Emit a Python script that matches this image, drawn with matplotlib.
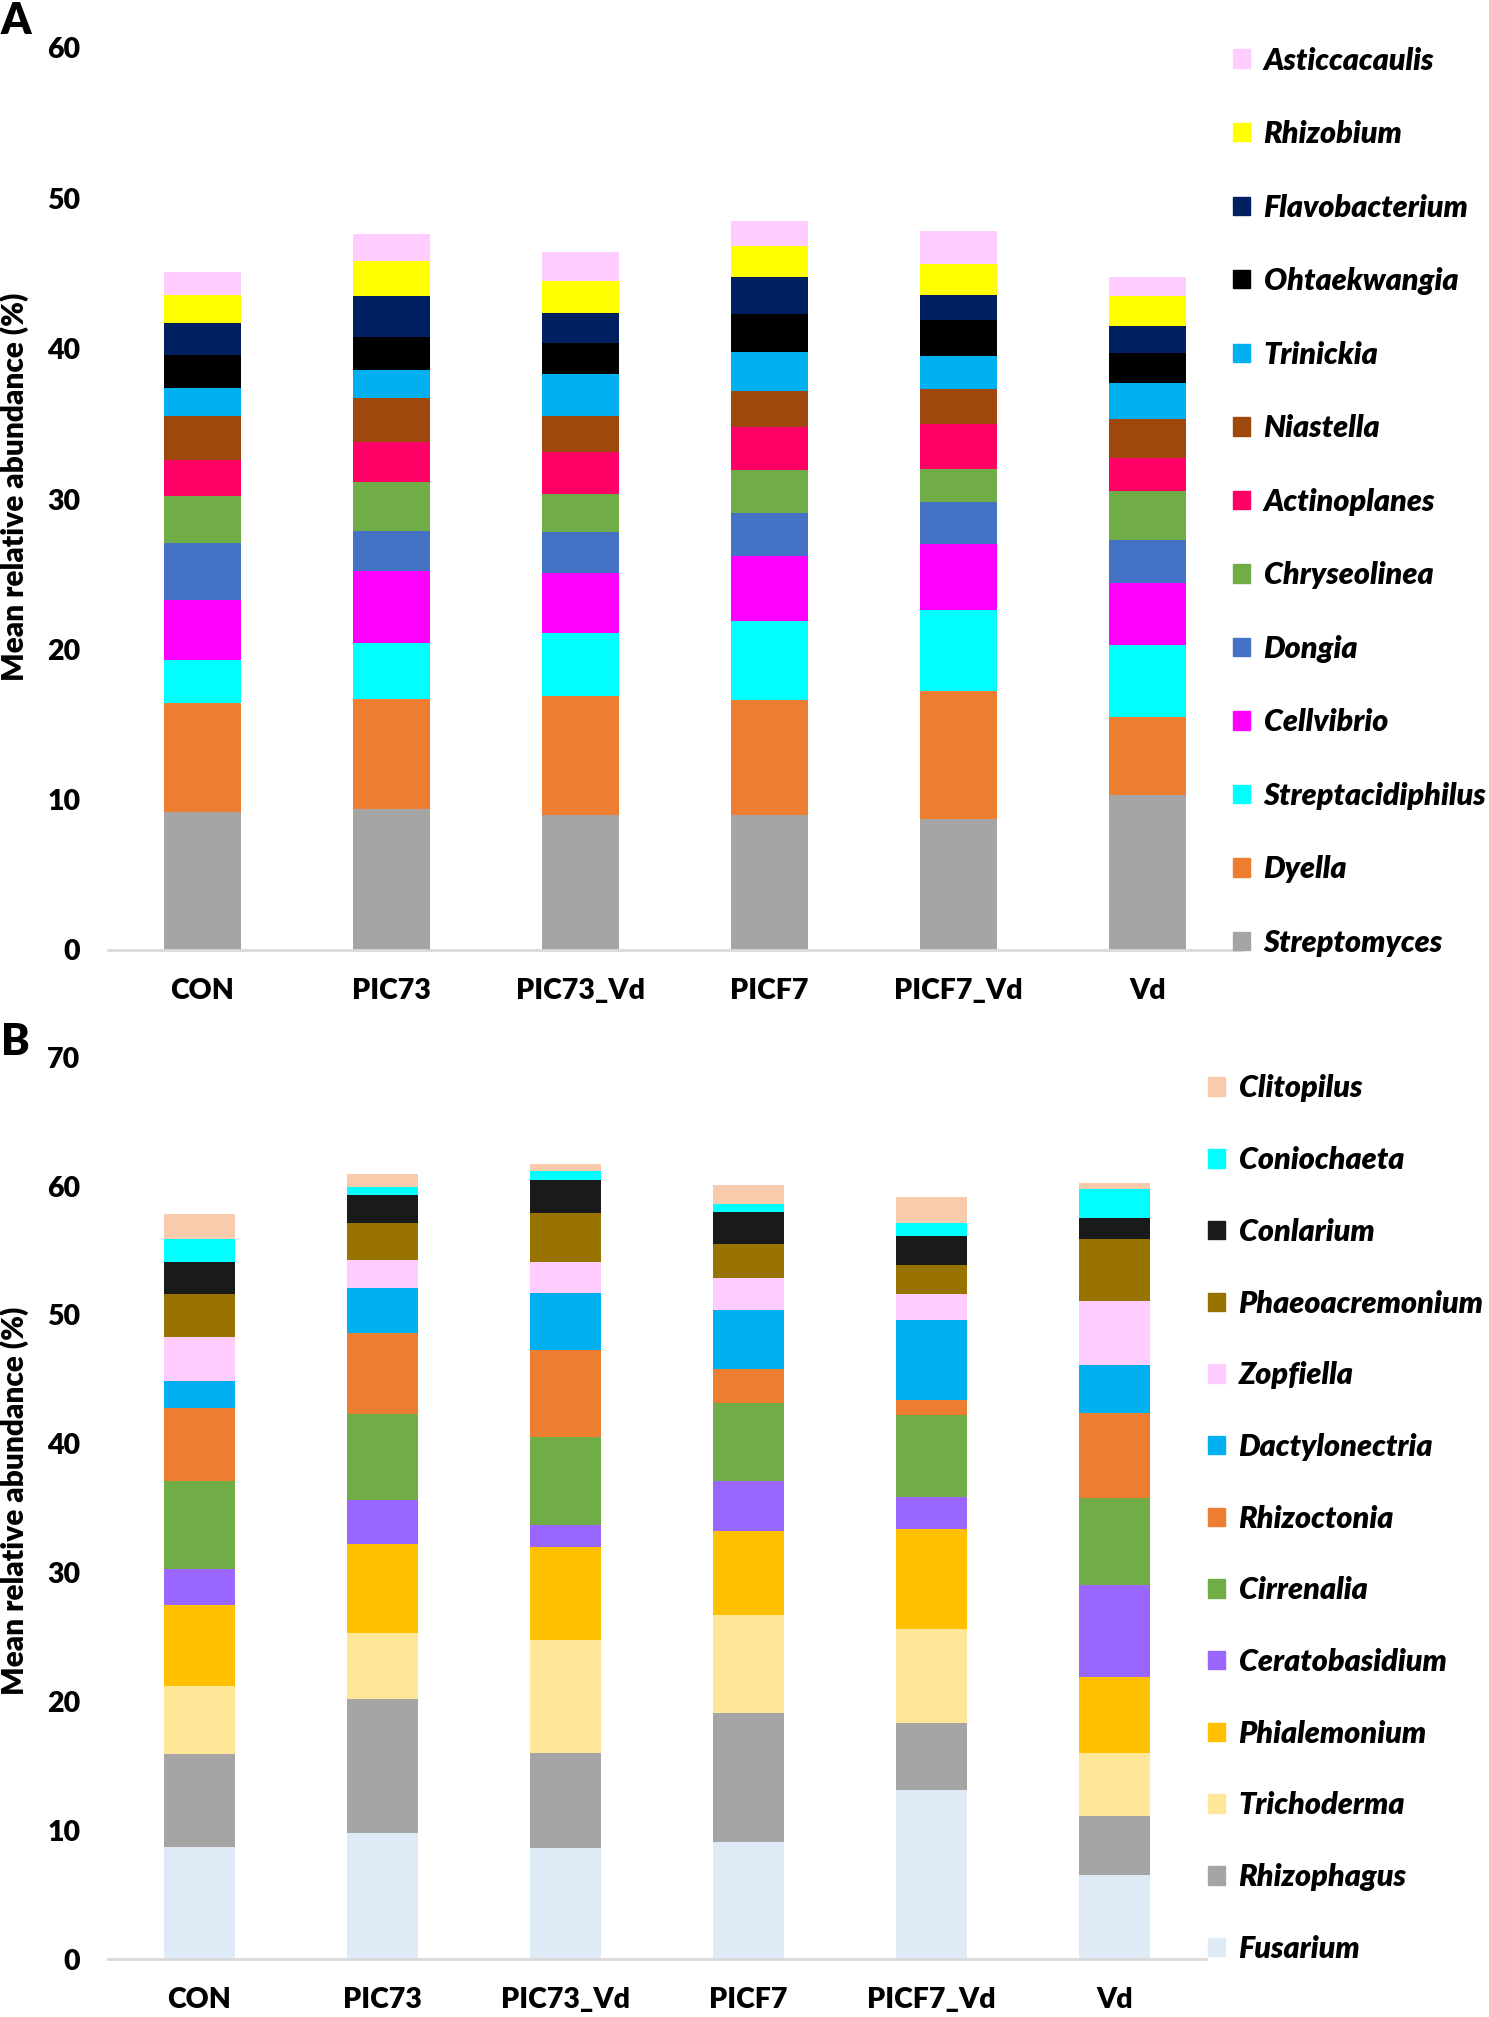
import numpy as np
import matplotlib
matplotlib.use("Agg")
import matplotlib.pyplot as plt
from matplotlib.patches import Patch

plt.rcParams['font.family'] = ['Lato', 'DejaVu Sans']
plt.rcParams['font.weight'] = 'heavy'

groups = ['CON', 'PIC73', 'PIC73_Vd', 'PICF7', 'PICF7_Vd', 'Vd']

# panel A - bacteria (bottom to top)
bact_names = ['Streptomyces', 'Dyella', 'Streptacidiphilus', 'Cellvibrio', 'Dongia',
              'Chryseolinea', 'Actinoplanes', 'Niastella', 'Trinickia', 'Ohtaekwangia',
              'Flavobacterium', 'Rhizobium', 'Asticcacaulis']
bact_colors = ['#A5A5A5', '#ED7D31', '#00FFFF', '#FF00FF', '#4472C4',
               '#70AD47', '#FF0066', '#9E480E', '#00B0F0', '#000000',
               '#002060', '#FFFF00', '#FFCCFF']
streptomyces = [9.2, 9.4, 9.0, 9.0, 8.7, 10.3]
dyella = [7.2, 7.3, 7.9, 7.6, 8.5, 5.2]
streptacidiphilus = [2.9, 3.7, 4.2, 5.3, 5.4, 4.8]
cellvibrio = [4.0, 4.8, 4.0, 4.3, 4.4, 4.1]
dongia = [3.8, 2.7, 2.7, 2.9, 2.8, 2.9]
chryseolinea = [3.1, 3.2, 2.5, 2.8, 2.2, 3.2]
actinoplanes = [2.4, 2.7, 2.8, 2.9, 3.0, 2.2]
niastella = [2.9, 2.9, 2.4, 2.4, 2.3, 2.6]
trinickia = [1.9, 1.9, 2.8, 2.6, 2.2, 2.4]
ohtaekwangia = [2.2, 2.2, 2.1, 2.5, 2.4, 2.0]
flavobacterium = [2.1, 2.7, 2.0, 2.5, 1.7, 1.8]
rhizobium = [1.9, 2.3, 2.1, 2.0, 2.0, 2.0]
asticcacaulis = [1.5, 1.8, 1.9, 1.7, 2.2, 1.3]
bact_values = [streptomyces, dyella, streptacidiphilus, cellvibrio, dongia,
               chryseolinea, actinoplanes, niastella, trinickia, ohtaekwangia,
               flavobacterium, rhizobium, asticcacaulis]

# panel B - fungi (bottom to top)
fung_names = ['Fusarium', 'Rhizophagus', 'Trichoderma', 'Phialemonium', 'Ceratobasidium',
              'Cirrenalia', 'Rhizoctonia', 'Dactylonectria', 'Zopfiella', 'Phaeoacremonium',
              'Conlarium', 'Coniochaeta', 'Clitopilus']
fung_colors = ['#DEEBF7', '#A5A5A5', '#FFE699', '#FFC000', '#9966FF',
               '#70AD47', '#ED7D31', '#00B0F0', '#FFCCFF', '#997300',
               '#1A1A1A', '#00FFFF', '#F8CBAD']
fusarium = [8.7, 9.8, 8.6, 9.1, 13.1, 6.5]
rhizophagus = [7.2, 10.4, 7.4, 10.0, 5.2, 4.6]
trichoderma = [5.3, 5.1, 8.8, 7.6, 7.3, 4.9]
phialemonium = [6.3, 6.9, 7.2, 6.5, 7.8, 5.9]
ceratobasidium = [2.8, 3.4, 1.7, 3.9, 2.5, 7.1]
cirrenalia = [6.8, 6.7, 6.8, 6.1, 6.3, 6.8]
rhizoctonia = [5.7, 6.3, 6.8, 2.6, 1.2, 6.6]
dactylonectria = [2.1, 3.5, 4.4, 4.6, 6.2, 3.7]
zopfiella = [3.4, 2.2, 2.4, 2.5, 2.0, 5.0]
phaeoacremonium = [3.3, 2.8, 3.8, 2.6, 2.3, 4.8]
conlarium = [2.5, 2.2, 2.6, 2.5, 2.2, 1.6]
coniochaeta = [1.8, 0.65, 0.65, 0.6, 1.05, 2.25]
clitopilus = [1.9, 1.0, 0.6, 1.45, 2.0, 0.5]
fung_values = [fusarium, rhizophagus, trichoderma, phialemonium, ceratobasidium,
               cirrenalia, rhizoctonia, dactylonectria, zopfiella, phaeoacremonium,
               conlarium, coniochaeta, clitopilus]

W, H = 1489, 2017
fig = plt.figure(figsize=(W/100, H/100), dpi=100)


def stacked(ax, names, colors, values, ymax, width):
    x = np.arange(len(groups))
    bottom = np.zeros(len(groups))
    for name, col, vals in zip(names, colors, values):
        ax.bar(x, vals, width, bottom=bottom, color=col, label=name, linewidth=0)
        bottom += np.array(vals)
    ax.set_xlim(-0.5, len(groups)-0.5)
    ax.set_ylim(0, ymax)
    ax.set_yticks(np.arange(0, ymax+1, 10))
    ax.set_xticks(x)
    ax.set_xticklabels(groups)
    for s in ['top', 'right', 'left']:
        ax.spines[s].set_visible(False)
    ax.spines['bottom'].set_color('#D9D9D9')
    ax.spines['bottom'].set_linewidth(2)
    ax.tick_params(axis='both', length=0, labelsize=20.5)
    ax.tick_params(axis='y', pad=20)
    ax.tick_params(axis='x', pad=20)
    ax.set_ylabel('Mean relative abundance (%)', fontsize=21.5, fontweight='heavy')


# panel A
axA = fig.add_axes([108/W, 1-950/H, 1134/W, 902/H])
stacked(axA, bact_names, bact_colors, bact_values, 60, 0.405)
axA.yaxis.set_label_coords(-79/1134, 0.513)
hA = [Patch(color=c, label=n) for n, c in zip(bact_names, bact_colors)][::-1]
fig.legend(handles=hA, loc='upper left', bbox_to_anchor=(1233/W, 1-46.5/H),
           frameon=False, prop={'style': 'italic', 'weight': 'heavy', 'size': 22},
           handlelength=0.55, handleheight=0.55, handletextpad=0.45,
           labelspacing=1.49, borderpad=0, borderaxespad=0)

# panel B
axB = fig.add_axes([108/W, 58/H, 1098/W, (1959-1057.3)/H])
stacked(axB, fung_names, fung_colors, fung_values, 70, 0.39)
axB.yaxis.set_label_coords(-79/1098, 0.5085)
hB = [Patch(color=c, label=n) for n, c in zip(fung_names, fung_colors)][::-1]
fig.legend(handles=hB, loc='upper left', bbox_to_anchor=(1208/W, 1-1074.5/H),
           frameon=False, prop={'style': 'italic', 'weight': 'heavy', 'size': 22},
           handlelength=0.55, handleheight=0.55, handletextpad=0.45,
           labelspacing=1.43, borderpad=0, borderaxespad=0)

fig.text(1/W, 1-1/H, 'A', fontsize=31, fontweight='heavy', va='top', ha='left')
fig.text(1/W, 1-1022/H, 'B', fontsize=31, fontweight='heavy', va='top', ha='left')

fig.savefig('out.png', dpi=100)
